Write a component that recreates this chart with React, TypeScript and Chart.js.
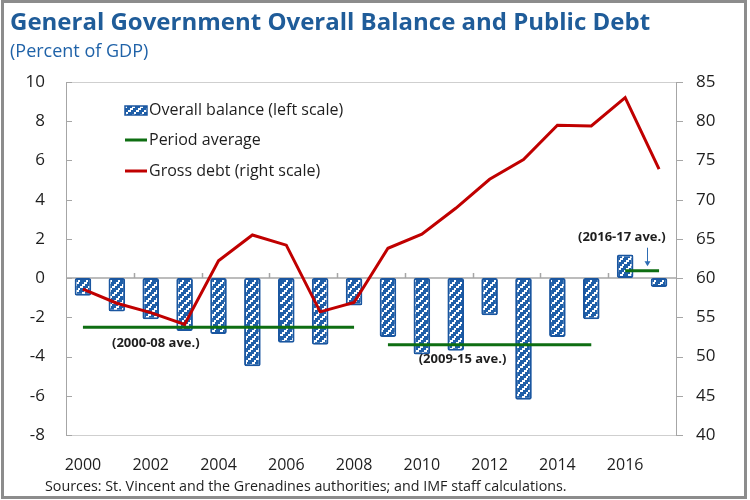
import React, { useEffect, useRef } from "react";
import { Chart, registerables } from "chart.js";

Chart.register(...registerables);

const years = ["2000", "2001", "2002", "2003", "2004", "2005", "2006", "2007", "2008", "2009", "2010", "2011", "2012", "2013", "2014", "2015", "2016", "2017"];
const overallBalance = [-0.9, -1.7, -2.1, -2.7, -2.85, -4.5, -3.3, -3.4, -1.4, -3.0, -3.9, -3.7, -1.9, -6.2, -3.0, -2.1, 1.2, -0.45];
const grossDebt = [58.6, 56.8, 55.6, 54.1, 62.2, 65.5, 64.2, 55.7, 56.9, 63.8, 65.6, 68.9, 72.6, 75.1, 79.5, 79.4, 83.0, 73.9];
const avg2000to08 = [-2.5, -2.5, -2.5, -2.5, -2.5, -2.5, -2.5, -2.5, -2.5, null, null, null, null, null, null, null, null, null];
const avg2009to15 = [null, null, null, null, null, null, null, null, null, -3.4, -3.4, -3.4, -3.4, -3.4, -3.4, -3.4, null, null];
const avg2016to17 = [null, null, null, null, null, null, null, null, null, null, null, null, null, null, null, null, 0.38, 0.38];
const leftTicks = [-8, -6, -4, -2, 0, 2, 4, 6, 8, 10];
const rightTicks = [40, 45, 50, 55, 60, 65, 70, 75, 80, 85];
const legendLabels = ["Overall balance (left scale)", "Period average", "Gross debt (right scale)"];

const BLUE = "#1F5FA8";
const BLUE_BORDER = "#1A56A0";
const RED = "#C00000";
const GREEN = "#0E6E12";
const FONT = "'Open Sans', 'Noto Sans', sans-serif";

function makePattern(): CanvasPattern | string {
  const c = document.createElement("canvas");
  c.width = 8;
  c.height = 8;
  const g = c.getContext("2d");
  if (!g) return BLUE;
  g.fillStyle = BLUE;
  g.fillRect(0, 0, 8, 8);
  g.fillStyle = "#ffffff";
  for (let k = 0; k < 4; k++) {
    g.fillRect(2 * k, 6 - 2 * k, 3, 2);
  }
  const p = g.createPattern(c, "repeat");
  return p || BLUE;
}

export default function App() {
  const ref = useRef<HTMLCanvasElement | null>(null);

  useEffect(() => {
    const canvas = ref.current;
    if (!canvas) return;
    const pattern = makePattern();

    const decor = {
      id: "decor",
      beforeDatasetsDraw(chart: any) {
        const { ctx, chartArea: a, scales } = chart;
        const x = scales.x;
        const y = scales.y;
        const y2 = scales.y2;
        ctx.save();
        ctx.strokeStyle = "#cfcfcf";
        ctx.lineWidth = 1;
        ctx.beginPath();
        ctx.moveTo(a.left, a.top + 0.5);
        ctx.lineTo(a.right, a.top + 0.5);
        ctx.moveTo(a.left, a.bottom + 0.5);
        ctx.lineTo(a.right, a.bottom + 0.5);
        ctx.stroke();
        ctx.strokeStyle = "#a6a6a6";
        ctx.beginPath();
        ctx.moveTo(a.left + 0.5, a.top);
        ctx.lineTo(a.left + 0.5, a.bottom + 1);
        ctx.moveTo(a.right + 0.5, a.top);
        ctx.lineTo(a.right + 0.5, a.bottom + 1);
        for (const v of leftTicks) {
          const yy = Math.round(y.getPixelForValue(v)) + 0.5;
          ctx.moveTo(a.left, yy);
          ctx.lineTo(a.left + 6, yy);
        }
        for (const v of rightTicks) {
          const yy = Math.round(y2.getPixelForValue(v)) + 0.5;
          ctx.moveTo(a.right, yy);
          ctx.lineTo(a.right + 7, yy);
        }
        ctx.stroke();
        const y0 = y.getPixelForValue(0);
        ctx.strokeStyle = "#a6a6a6";
        ctx.lineWidth = 1.5;
        ctx.beginPath();
        ctx.moveTo(a.left, y0);
        ctx.lineTo(a.right, y0);
        for (let i = 2; i < years.length; i += 2) {
          const bx = Math.round((x.getPixelForValue(i - 1) + x.getPixelForValue(i)) / 2) + 0.5;
          ctx.moveTo(bx, y0);
          ctx.lineTo(bx, y0 - 5);
        }
        ctx.stroke();
        ctx.restore();
      },
      afterDatasetsDraw(chart: any) {
        const { ctx, scales } = chart;
        const x = scales.x;
        const y = scales.y;
        const step = x.getPixelForValue(1) - x.getPixelForValue(0);
        ctx.save();
        ctx.fillStyle = "#1e1e1e";
        ctx.font = `bold 13px ${FONT}`;
        ctx.textAlign = "center";
        ctx.textBaseline = "middle";
        ctx.fillText("(2000-08 ave.)", x.getPixelForValue(0) + 2.15 * step, y.getPixelForValue(-3.3));
        ctx.fillText("(2009-15 ave.)", x.getPixelForValue(0) + 11.2 * step, y.getPixelForValue(-4.15));
        ctx.fillText("(2016-17 ave.)", x.getPixelForValue(0) + 15.9 * step, y.getPixelForValue(2.1));
        // arrow
        const ax = Math.round(x.getPixelForValue(0) + 16.65 * step) + 0.5;
        const ay1 = y.getPixelForValue(1.55);
        const ay2 = y.getPixelForValue(0.6);
        ctx.strokeStyle = "#2E6DB4";
        ctx.fillStyle = "#2E6DB4";
        ctx.lineWidth = 1;
        ctx.beginPath();
        ctx.moveTo(ax, ay1);
        ctx.lineTo(ax, ay2 - 3);
        ctx.stroke();
        ctx.beginPath();
        ctx.moveTo(ax - 3, ay2 - 5);
        ctx.lineTo(ax + 3, ay2 - 5);
        ctx.lineTo(ax, ay2);
        ctx.closePath();
        ctx.fill();
        // legend
        const lx = 125;
        const lw = 22;
        const rows = [110, 140, 171];
        ctx.fillStyle = pattern as any;
        ctx.fillRect(lx, rows[0] - 4, lw, 9);
        ctx.strokeStyle = BLUE_BORDER;
        ctx.lineWidth = 1.5;
        ctx.strokeRect(lx, rows[0] - 4, lw, 9);
        ctx.lineWidth = 3;
        ctx.strokeStyle = GREEN;
        ctx.beginPath();
        ctx.moveTo(lx, rows[1]);
        ctx.lineTo(lx + lw, rows[1]);
        ctx.stroke();
        ctx.strokeStyle = RED;
        ctx.beginPath();
        ctx.moveTo(lx, rows[2]);
        ctx.lineTo(lx + lw, rows[2]);
        ctx.stroke();
        ctx.fillStyle = "#1e1e1e";
        ctx.font = `16px ${FONT}`;
        ctx.textAlign = "left";
        ctx.textBaseline = "middle";
        legendLabels.forEach((t, i) => ctx.fillText(t, lx + lw + 2, rows[i]));
        ctx.restore();
      },
    };

    const tickFont = { family: FONT, size: 17 };
    const chart = new Chart(canvas, {
      type: "bar",
      data: {
        labels: years,
        datasets: [
          {
            type: "line",
            label: "Gross debt (right scale)",
            data: grossDebt,
            yAxisID: "y2",
            borderColor: RED,
            borderWidth: 3,
            pointRadius: 0,
            tension: 0,
            order: 1,
          },
          {
            type: "line",
            label: "Period average",
            data: avg2000to08,
            yAxisID: "y",
            borderColor: GREEN,
            borderWidth: 3,
            pointRadius: 0,
            spanGaps: false,
            order: 2,
          },
          {
            type: "line",
            label: "Period average 2009-15",
            data: avg2009to15,
            yAxisID: "y",
            borderColor: GREEN,
            borderWidth: 3,
            pointRadius: 0,
            spanGaps: false,
            order: 2,
          },
          {
            type: "line",
            label: "Period average 2016-17",
            data: avg2016to17,
            yAxisID: "y",
            borderColor: GREEN,
            borderWidth: 3,
            pointRadius: 0,
            spanGaps: false,
            order: 2,
          },
          {
            type: "bar",
            label: "Overall balance (left scale)",
            data: overallBalance,
            yAxisID: "y",
            backgroundColor: pattern as any,
            borderColor: BLUE_BORDER,
            borderWidth: 2,
            borderRadius: 2,
            borderSkipped: false,
            barPercentage: 0.49,
            categoryPercentage: 1,
            order: 3,
          },
        ],
      } as any,
      options: {
        responsive: false,
        animation: false,
        devicePixelRatio: 1,
        layout: { padding: { top: 82, left: 0, right: 0, bottom: 0 } },
        plugins: { legend: { display: false }, tooltip: { enabled: false }, title: { display: false } },
        scales: {
          x: {
            type: "category",
            offset: true,
            grid: { display: false, drawTicks: false },
            border: { display: false },
            ticks: {
              autoSkip: false,
              maxRotation: 0,
              padding: 21,
              color: "#1e1e1e",
              font: { family: FONT, size: 16 },
              callback: (_v: any, i: number) => (i % 2 === 0 ? years[i] : ""),
            },
            afterFit: (s: any) => {
              s.height = 65;
            },
          },
          y: {
            position: "left",
            min: -8,
            max: 10,
            grid: { display: false, drawTicks: false },
            border: { display: false },
            ticks: { padding: 21, color: "#1e1e1e", font: tickFont },
            afterBuildTicks: (s: any) => {
              s.ticks = leftTicks.map((v) => ({ value: v }));
            },
            afterFit: (s: any) => {
              s.width = 66;
            },
          },
          y2: {
            position: "right",
            min: 40,
            max: 85,
            grid: { display: false, drawTicks: false },
            border: { display: false },
            ticks: { padding: 20, color: "#1e1e1e", font: tickFont },
            afterBuildTicks: (s: any) => {
              s.ticks = rightTicks.map((v) => ({ value: v }));
            },
            afterFit: (s: any) => {
              s.width = 74;
            },
          },
        },
      } as any,
      plugins: [decor],
    });
    return () => chart.destroy();
  }, []);

  return (
    <div style={{ position: "fixed", left: 0, top: 0, width: 750, height: 500, background: "#fff", overflow: "hidden" }}>
      <canvas ref={ref} width={750} height={500} style={{ position: "absolute", left: 0, top: 0, width: 750, height: 500 }} />
      <div
        style={{
          position: "absolute",
          left: 10,
          top: 5,
          fontFamily: FONT,
          fontWeight: 700,
          fontSize: 24,
          color: "#1F5C99",
          whiteSpace: "nowrap",
          lineHeight: "32px",
        }}
      >
        General Government Overall Balance and Public Debt
      </div>
      <div
        style={{
          position: "absolute",
          left: 10,
          top: 37,
          fontFamily: FONT,
          fontSize: 18,
          color: "#1F62A8",
          whiteSpace: "nowrap",
          lineHeight: "26px",
        }}
      >
        (Percent of GDP)
      </div>
      <div
        style={{
          position: "absolute",
          left: 45,
          top: 476,
          fontFamily: FONT,
          fontSize: 14.3,
          color: "#1e1e1e",
          whiteSpace: "nowrap",
          lineHeight: "20px",
        }}
      >
        Sources: St. Vincent and the Grenadines authorities; and IMF staff calculations.
      </div>
      <div
        style={{
          position: "absolute",
          left: 1,
          top: 0,
          width: 746,
          height: 499,
          border: "3px solid #8c8c8c",
          boxSizing: "border-box",
          pointerEvents: "none",
        }}
      />
    </div>
  );
}
